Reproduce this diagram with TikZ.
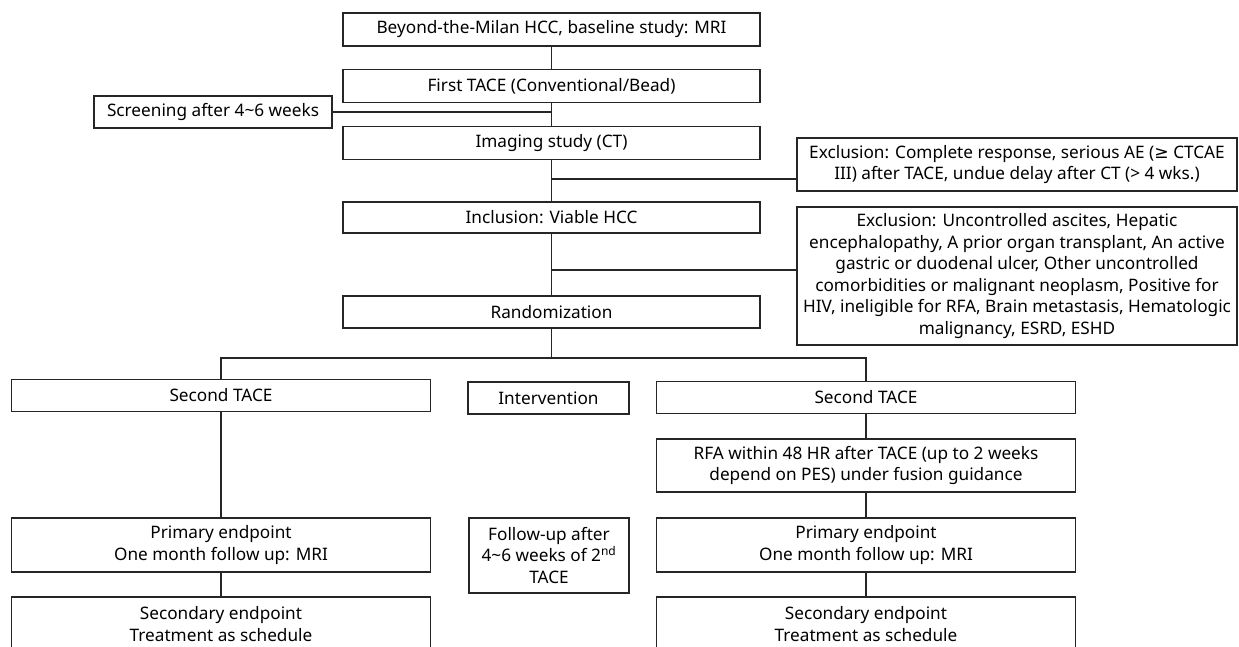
\documentclass[tikz,border=0pt]{standalone}
\usepackage{fontspec}
\setmainfont{Noto Sans}
\newfontfamily\symfont{DejaVu Sans}
\usetikzlibrary{positioning}

\begin{document}
\begin{tikzpicture}[
	x=1pt, y=-1pt,
	every node/.style={font=\fontsize{17.2}{21.5}\selectfont},
	flowbox/.style={draw=black!85, line width=1.8pt, align=center, inner sep=2pt},
	mainbox/.style={flowbox, minimum width=417pt, minimum height=33pt},
	armbox/.style={flowbox, minimum width=419pt, minimum height=32pt},
	exclbox/.style={flowbox, minimum width=440pt},
	link/.style={draw=black!85, line width=1.8pt}
	]
	\useasboundingbox (0,0) rectangle (1239,647);
	\clip (0,0) rectangle (1239,647);
	% main column
	\node[mainbox] (base) at (551.5,29.5) {Beyond-the-Milan HCC, baseline study: MRI};
	\node[mainbox] (tace1) at (551.5,86) {First TACE (Conventional/Bead)};
	\node[flowbox, minimum width=238pt, minimum height=32pt] (screen) at (213,112)
	{Screening after 4\textasciitilde 6 weeks};
	\node[mainbox] (imaging) at (551.5,143) {Imaging study (CT)};
	\node[exclbox, minimum height=53pt] (excl1) at (1017,164.5)
	{Exclusion: Complete response, serious AE ({\symfont ≥} CTCAE\\
		III) after TACE, undue delay after CT (> 4 wks.)};
	\node[mainbox, minimum height=31pt] (incl) at (551.5,217.5) {Inclusion: Viable HCC};
	\node[exclbox, minimum height=138pt] (excl2) at (1017,276)
	{Exclusion: Uncontrolled ascites, Hepatic\\
		encephalopathy, A prior organ transplant, An active\\
		gastric or duodenal ulcer, Other uncontrolled\\
		comorbidities or malignant neoplasm, Positive for\\
		HIV, ineligible for RFA, Brain metastasis, Hematologic\\
		malignancy, ESRD, ESHD};
	\node[mainbox, minimum height=32pt] (rand) at (551.5,312) {Randomization};
	% arms
	\node[armbox] (tace2L) at (221,395.5) {Second TACE};
	\node[flowbox, minimum width=161pt, minimum height=32pt] (interv) at (548.5,398) {Intervention};
	\node[armbox] (tace2R) at (866,397.5) {Second TACE};
	\node[armbox, minimum height=53pt] (rfa) at (866,465.5)
	{RFA within 48 HR after TACE (up to 2 weeks\\depend on PES) under fusion guidance};
	\node[armbox, minimum height=54pt] (primL) at (221,545) {Primary endpoint\\One month follow up: MRI};
	\node[flowbox, minimum width=160pt, minimum height=75pt] (follow) at (549,555.5)
	{Follow-up after\\4\textasciitilde 6 weeks of 2\textsuperscript{nd}\\TACE};
	\node[armbox, minimum height=54pt] (primR) at (866,545) {Primary endpoint\\One month follow up: MRI};
	\node[armbox, minimum height=54pt] (secL) at (221,624) {Secondary endpoint\\Treatment as schedule};
	\node[armbox, minimum height=54pt] (secR) at (866,624) {Secondary endpoint\\Treatment as schedule};
	% connectors
	\coordinate (cut1) at (551.5,179);
	\coordinate (cut2) at (551.5,270);
	\coordinate (split) at (551.5,358);
	\draw[link] (base) -- (tace1);
	\draw[link] (tace1) -- (imaging);
	\draw[link] (screen.east) -- (screen.east -| tace1.south);
	\draw[link] (imaging) -- (incl);
	\draw[link] (cut1) -- (cut1 -| excl1.west);
	\draw[link] (incl) -- (rand);
	\draw[link] (cut2) -- (cut2 -| excl2.west);
	\draw[link] (rand.south) -- (split);
	\draw[link] (tace2L.north) |- (split) -| (tace2R.north);
	\draw[link] (tace2L) -- (primL);
	\draw[link] (primL) -- (secL);
	\draw[link] (tace2R) -- (rfa);
	\draw[link] (rfa) -- (primR);
	\draw[link] (primR) -- (secR);
\end{tikzpicture}
\end{document}
